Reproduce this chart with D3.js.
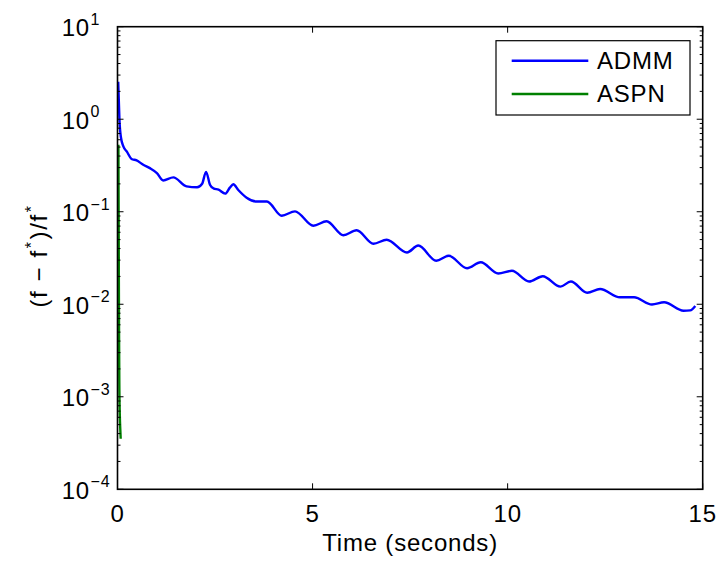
<!DOCTYPE html>
<html>
<head>
<meta charset="utf-8">
<script src="https://cdn.jsdelivr.net/npm/d3@7"></script>
<style>
  body { margin: 0; background: #fff; }
  text { font-family: "Liberation Sans", Arial, sans-serif; fill: #000; letter-spacing: 0.8px; }
</style>
</head>
<body>
<div id="chart"></div>
<script>
// values
const admmTime = [0.018, 0.033, 0.05, 0.09, 0.15, 0.24, 0.36, 0.49, 0.66, 0.83, 1.01, 1.17, 1.43, 1.77, 2.04, 2.17, 2.27, 2.37, 2.46, 2.59, 2.76, 2.88, 2.97, 3.09, 3.31, 3.57, 3.83, 4.21, 4.55, 5.02, 5.36, 5.79, 6.13, 6.56, 6.90, 7.42, 7.71, 8.17, 8.49, 8.96, 9.31, 9.76, 10.11, 10.55, 10.90, 11.35, 11.62, 12.04, 12.37, 12.88, 13.24, 13.70, 14.01, 14.51, 14.68, 14.81];
const admmValue = [2.54, 1.63, 0.99, 0.63, 0.508, 0.446, 0.372, 0.359, 0.322, 0.296, 0.262, 0.218, 0.235, 0.188, 0.184, 0.201, 0.270, 0.196, 0.179, 0.173, 0.157, 0.182, 0.198, 0.173, 0.142, 0.129, 0.129, 0.0906, 0.101, 0.0706, 0.0789, 0.0557, 0.0631, 0.0451, 0.0498, 0.0363, 0.0431, 0.0295, 0.0334, 0.0245, 0.0284, 0.0215, 0.0230, 0.0176, 0.0201, 0.0155, 0.0176, 0.0133, 0.0146, 0.0119, 0.0119, 0.00993, 0.0105, 0.0085, 0.0086, 0.0096];
const aspnTime = [0.023, 0.028, 0.033, 0.038, 0.046, 0.059, 0.072, 0.082];
const aspnValue = [0.53, 0.135, 0.0303, 0.00679, 0.00153, 0.000639, 0.00044, 0.000352];
const seriesNames = ["ADMM", "ASPN"];
const seriesColors = ["#0000ff", "#008000"];
const xTicks = [0, 5, 10, 15];
const yTickExps = [1, 0, -1, -2, -3, -4];

const margin = {top: 26.7, right: 17.3, bottom: 71.7, left: 117.5},
      W = 720, H = 561,
      width = W - margin.left - margin.right,
      height = H - margin.top - margin.bottom;

const svg = d3.select("#chart").append("svg")
    .attr("width", W).attr("height", H);
const g = svg.append("g")
    .attr("transform", "translate(" + margin.left + "," + margin.top + ")");

const x = d3.scaleLinear().domain([0, 15]).range([0, width]);
const y = d3.scaleLog().domain([1e-4, 10]).range([height, 0]);

svg.append("defs").append("clipPath").attr("id", "clip")
  .append("rect").attr("width", width).attr("height", height);

// lines
const series = [
  admmTime.map((t, i) => [t, admmValue[i]]),
  aspnTime.map((t, i) => [t, aspnValue[i]])
];
const line = d3.line()
    .x(d => x(d[0])).y(d => y(d[1]))
    .curve(d3.curveMonotoneX);
const lines = g.append("g").attr("clip-path", "url(#clip)");
[0, 1].forEach(i => {
  lines.append("path")
    .datum(series[i])
    .attr("fill", "none")
    .attr("stroke", seriesColors[i])
    .attr("stroke-width", 2.4)
    .attr("stroke-linejoin", "round")
    .attr("d", line);
});

// axes (box, ticks pointing inside)
const majorLen = 6, minorLen = 3;
const axisG = g.append("g").attr("stroke", "#000").attr("stroke-width", 1);
xTicks.forEach(t => {
  axisG.append("line").attr("x1", x(t)).attr("x2", x(t))
    .attr("y1", height).attr("y2", height - majorLen);
  axisG.append("line").attr("x1", x(t)).attr("x2", x(t))
    .attr("y1", 0).attr("y2", majorLen);
});
yTickExps.forEach(e => {
  const yy = y(Math.pow(10, e));
  axisG.append("line").attr("x1", 0).attr("x2", majorLen).attr("y1", yy).attr("y2", yy);
  axisG.append("line").attr("x1", width).attr("x2", width - majorLen).attr("y1", yy).attr("y2", yy);
  if (e < 1) {
    for (let k = 2; k <= 9; k++) {
      const ym = y(k * Math.pow(10, e));
      axisG.append("line").attr("x1", 0).attr("x2", minorLen).attr("y1", ym).attr("y2", ym);
      axisG.append("line").attr("x1", width).attr("x2", width - minorLen).attr("y1", ym).attr("y2", ym);
    }
  }
});
g.append("rect")
  .attr("width", width).attr("height", height)
  .attr("fill", "none").attr("stroke", "#000").attr("stroke-width", 1.6);

// x tick labels
g.selectAll(".xLabels").data(xTicks).enter().append("text")
  .attr("class", "xLabels")
  .attr("x", d => x(d)).attr("y", height + 33)
  .attr("text-anchor", "middle")
  .style("font-size", "24px")
  .text(d => d);

// y tick labels: 10 with superscript exponent
yTickExps.forEach(e => {
  const yy = y(Math.pow(10, e));
  g.append("text")
    .attr("x", -27.5).attr("y", yy + 9.5)
    .attr("text-anchor", "end")
    .style("font-size", "24px")
    .text("10");
  g.append("text")
    .attr("x", -27).attr("y", yy - 2)
    .style("font-size", "16px")
    .text(e < 0 ? "\u2212" + (-e) : e);
});

// axis titles
svg.append("text")
  .attr("x", margin.left + width / 2).attr("y", 551)
  .attr("text-anchor", "middle")
  .style("font-size", "24px")
  .text("Time (seconds)");

const yl = svg.append("text")
  .attr("transform", "translate(47," + (margin.top + height / 2 - 2) + ") rotate(-90)")
  .attr("text-anchor", "middle")
  .style("font-size", "24px")
  .style("letter-spacing", "1.6px");
yl.append("tspan").text("(f \u2212 f");
yl.append("tspan").attr("dy", -10).attr("dx", 1).style("font-size", "16px").text("*");
yl.append("tspan").attr("dy", 10).attr("dx", 1).text(")/f");
yl.append("tspan").attr("dy", -10).attr("dx", 1).style("font-size", "16px").text("*");

// legend
const legend = svg.append("g");
legend.append("rect")
  .attr("x", 496).attr("y", 40.7).attr("width", 194).attr("height", 74.3)
  .attr("fill", "#fff").attr("stroke", "#000").attr("stroke-width", 1.2);
seriesNames.forEach((name, i) => {
  const ly = 60.7 + i * 33.3;
  legend.append("line")
    .attr("x1", 511.7).attr("x2", 588.3).attr("y1", ly).attr("y2", ly)
    .attr("stroke", seriesColors[i]).attr("stroke-width", 2.4);
  legend.append("text")
    .attr("x", 597).attr("y", ly + 8.3)
    .style("font-size", "24px")
    .text(name);
});
</script>
</body>
</html>
